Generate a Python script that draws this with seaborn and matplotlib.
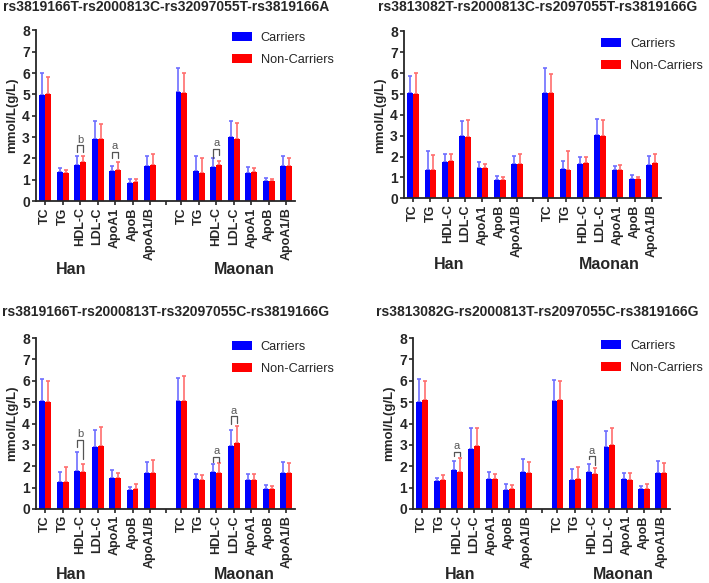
import numpy as np
import pandas as pd
import matplotlib
matplotlib.use("Agg")
import matplotlib.pyplot as plt
import seaborn as sns

# ------------------------------------------
# Data
# ------------------------------------------
lipids = ["TC", "TG", "HDL-C", "LDL-C", "ApoA1", "ApoB", "ApoA1/B"]
groups = ["Carriers", "Non-Carriers"]

titles = [
    "rs3819166T-rs2000813C-rs32097055T-rs3819166A",
    "rs3813082T-rs2000813C-rs2097055T-rs3819166G",
    "rs3819166T-rs2000813T-rs32097055C-rs3819166G",
    "rs3813082G-rs2000813T-rs2097055C-rs3819166G",
]

# means: [Han carriers, Han non-carriers, Maonan carriers, Maonan non-carriers]
p1_mean = [
    [4.96, 1.37, 1.70, 2.93, 1.40, 0.87, 1.64],
    [5.02, 1.31, 1.81, 2.90, 1.44, 0.90, 1.68],
    [5.10, 1.39, 1.62, 3.00, 1.33, 0.92, 1.64],
    [5.05, 1.34, 1.67, 2.93, 1.36, 0.92, 1.65],
]
p1_top = [
    [6.00, 1.56, 2.10, 3.76, 1.64, 1.06, 2.12],
    [5.82, 1.45, 2.10, 3.63, 1.83, 1.03, 2.20],
    [6.24, 2.10, 2.00, 3.76, 1.58, 1.09, 2.10],
    [5.99, 2.00, 1.90, 3.68, 1.55, 1.06, 2.04],
]
p2_mean = [
    [5.07, 1.37, 1.74, 3.00, 1.43, 0.89, 1.63],
    [4.99, 1.37, 1.78, 2.92, 1.43, 0.88, 1.66],
    [5.07, 1.40, 1.64, 3.04, 1.34, 0.94, 1.61],
    [5.07, 1.35, 1.69, 2.98, 1.37, 0.91, 1.67],
]
p2_top = [
    [5.88, 2.26, 2.14, 3.71, 1.75, 1.08, 2.04],
    [6.02, 2.07, 2.10, 3.76, 1.63, 1.04, 2.14],
    [6.25, 1.77, 2.00, 3.82, 1.56, 1.10, 2.04],
    [5.98, 2.28, 2.00, 3.75, 1.61, 1.02, 2.14],
]
p3_mean = [
    [5.04, 1.28, 1.79, 2.91, 1.46, 0.87, 1.70],
    [5.03, 1.25, 1.73, 2.96, 1.43, 0.92, 1.68],
    [5.04, 1.39, 1.73, 2.94, 1.34, 0.95, 1.68],
    [5.07, 1.35, 1.70, 3.07, 1.35, 0.92, 1.70],
]
p3_top = [
    [6.07, 1.74, 2.65, 3.72, 1.82, 1.04, 2.19],
    [6.00, 1.95, 2.10, 3.84, 1.70, 1.18, 2.29],
    [6.15, 1.63, 2.09, 3.72, 1.63, 1.12, 2.18],
    [6.24, 1.57, 2.13, 3.88, 1.62, 1.09, 2.16],
]
p4_mean = [
    [5.00, 1.31, 1.82, 2.83, 1.42, 0.89, 1.71],
    [5.09, 1.35, 1.74, 2.94, 1.42, 0.95, 1.67],
    [5.06, 1.34, 1.71, 2.90, 1.42, 0.92, 1.70],
    [5.10, 1.42, 1.63, 2.99, 1.35, 0.92, 1.67],
]
p4_top = [
    [6.09, 1.46, 2.26, 3.77, 1.71, 1.17, 2.32],
    [6.00, 1.57, 2.37, 3.78, 1.62, 1.10, 2.21],
    [6.05, 1.85, 2.10, 3.66, 1.70, 1.09, 2.26],
    [5.99, 1.98, 1.91, 3.78, 1.67, 1.18, 2.13],
]

# significance brackets: (population, lipid, letter, height, left leg end, right leg end)
p1_sig = [("Han", "HDL-C", "b", 2.62, 2.31, 2.31),
          ("Han", "ApoA1", "a", 2.31, 2.00, 2.00),
          ("Maonan", "HDL-C", "a", 2.46, 2.00, 2.15)]
p2_sig = []
p3_sig = [("Han", "HDL-C", "b", 3.25, 2.90, 2.35),
          ("Maonan", "HDL-C", "a", 2.44, 2.20, 2.20),
          ("Maonan", "LDL-C", "a", 4.34, 4.00, 4.03)]
p4_sig = [("Han", "HDL-C", "a", 2.69, 2.47, 2.47),
          ("Maonan", "HDL-C", "a", 2.47, 2.32, 2.05)]

means = [p1_mean, p2_mean, p3_mean, p4_mean]
tops = [p1_top, p2_top, p3_top, p4_top]
sigs = [p1_sig, p2_sig, p3_sig, p4_sig]

# ------------------------------------------
# Layout
# ------------------------------------------
sns.set_style("ticks")
plt.rcParams["font.family"] = ["Liberation Sans", "DejaVu Sans"]

han_x = np.arange(7)
mao_x = np.arange(7) + 7.8
gap_x = 6.9
bar_w = 0.68
colors = ["#0000FF", "#FF0000"]
err_colors = ["#6E6EFF", "#FF6E6E"]

axes_rect = [
    [0.051, 0.655, 0.365, 0.293],
    [0.570, 0.660, 0.362, 0.286],
    [0.051, 0.127, 0.365, 0.293],
    [0.583, 0.127, 0.362, 0.293],
]
title_x = [0.234, 0.758, 0.234, 0.758]
title_y = [0.988, 0.988, 0.465, 0.465]
pop_label_y = [-0.40, -0.40, -0.385, -0.385]
pop_label_x = [(1.5, 11.4), (2.1, 11.3), (1.5, 11.4), (2.2, 11.6)]
legend_anchor = [(0.327, 0.945), (0.848, 0.935), (0.327, 0.415), (0.848, 0.417)]

fig = plt.figure(figsize=(7.09, 5.83), dpi=100)

for k in range(4):
    ax = fig.add_axes(axes_rect[k])
    m = means[k]
    t = tops[k]

    rows = []
    for g in range(2):
        for i, lip in enumerate(lipids):
            rows.append({"x": han_x[i], "pop": "Han", "lipid": lip,
                         "group": groups[g], "value": m[g][i], "top": t[g][i]})
            rows.append({"x": mao_x[i], "pop": "Maonan", "lipid": lip,
                         "group": groups[g], "value": m[g + 2][i], "top": t[g + 2][i]})
    df = pd.DataFrame(rows)

    sns.barplot(data=df, x="x", y="value", hue="group", hue_order=groups,
                palette=colors, native_scale=True, width=bar_w, dodge=True,
                saturation=1, linewidth=0, errorbar=None, ax=ax, zorder=2)

    # one-sided error bars
    for g in range(2):
        sub = df[df["group"] == groups[g]]
        off = (g - 0.5) * bar_w / 2
        ax.errorbar(sub["x"] + off, sub["value"],
                    yerr=[np.zeros(len(sub)), sub["top"] - sub["value"]],
                    fmt="none", ecolor=err_colors[g], elinewidth=1.2,
                    capsize=1.2, capthick=1.2, zorder=1)

    # significance brackets
    for pop, lip, letter, h, y0, y1 in sigs[k]:
        sub = df[(df["pop"] == pop) & (df["lipid"] == lip)]
        xc = sub["x"].iloc[0]
        x0 = xc - bar_w / 4
        x1 = xc + bar_w / 4
        ax.plot([x0, x0, x1, x1], [y0, h, h, y1],
                color="#555555", lw=0.9, zorder=3)
        ax.text(xc, h + 0.02, letter, ha="center", va="bottom",
                fontsize=8, color="#555555")

    ax.set_xlim(-0.52, 14.3)
    ax.set_ylim(0, 8)
    ax.set_yticks(range(9))
    ax.set_yticklabels([str(v) for v in range(9)], fontweight="bold", fontsize=10)
    xt = list(han_x) + [gap_x] + list(mao_x)
    ax.set_xticks(xt)
    ax.set_xticklabels(lipids + [""] + lipids, rotation=90, fontweight="bold",
                       fontsize=9)
    ax.tick_params(axis="both", length=3, width=1.2, pad=1.5)
    ax.set_xlabel("")
    ax.set_ylabel("mmol/L(g/L)", fontweight="bold", fontsize=9.5, labelpad=3)
    for s in ["left", "bottom"]:
        ax.spines[s].set_linewidth(1.3)
    sns.despine(ax=ax)

    # population labels under the tick labels
    for px, name in zip(pop_label_x[k], ["Han", "Maonan"]):
        ax.text(px, pop_label_y[k], name, transform=ax.get_xaxis_transform(),
                ha="center", va="center", fontsize=11.5, fontweight="bold")

    ax.legend(loc="upper left", bbox_to_anchor=legend_anchor[k],
              bbox_transform=fig.transFigure, frameon=False, fontsize=9.2,
              handlelength=1.55, handleheight=0.72, labelspacing=0.8,
              handletextpad=0.7, borderpad=0, borderaxespad=0)

    fig.text(title_x[k], title_y[k], titles[k], ha="center", va="center",
             fontsize=10, fontweight="bold")

fig.savefig("out.png", dpi=100)
